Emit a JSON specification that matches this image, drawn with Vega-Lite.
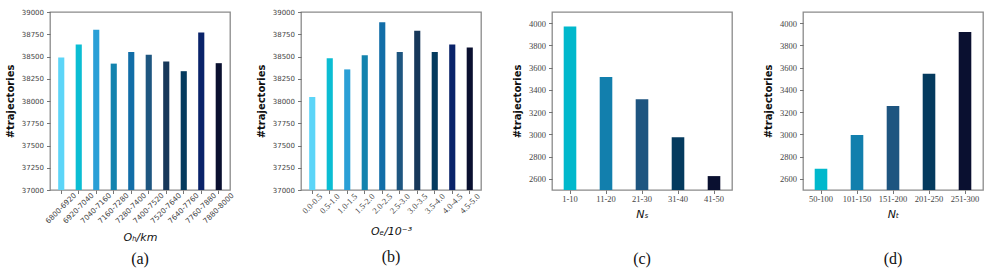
{
  "$schema": "https://vega.github.io/schema/vega-lite/v6.json",
  "background": "white",
  "padding": {"left": 4, "top": 7, "right": 5, "bottom": 5},
  "spacing": 71,
  "bounds": "flush",
  "resolve": {"scale": {"color": "independent", "x": "independent", "y": "independent"}},
  "config": {
    "view": {"stroke": "#8a8a8a", "strokeWidth": 1.3},
    "axis": {
      "domain": false,
      "grid": false,
      "tickColor": "#666",
      "tickSize": 3.5,
      "tickWidth": 0.9,
      "labelColor": "#444",
      "titleColor": "#111",
      "labelPadding": 3
    },
    "axisY": {
      "titleFont": "DejaVu Sans",
      "titleFontWeight": "bold",
      "titleFontSize": 10,
      "titlePadding": 6
    },
    "title": {"font": "Liberation Serif", "fontSize": 16, "fontWeight": "normal", "color": "#111", "orient": "bottom"}
  },
  "datasets": {
    "a": [
      {"cat": "6800-6920", "v": 38490},
      {"cat": "6920-7040", "v": 38635},
      {"cat": "7040-7160", "v": 38800},
      {"cat": "7160-7280", "v": 38420},
      {"cat": "7280-7400", "v": 38550},
      {"cat": "7400-7520", "v": 38520},
      {"cat": "7520-7640", "v": 38445},
      {"cat": "7640-7760", "v": 38335},
      {"cat": "7760-7880", "v": 38770},
      {"cat": "7880-8000", "v": 38425}
    ],
    "b": [
      {"cat": "0.0-0.5", "v": 38045},
      {"cat": "0.5-1.0", "v": 38480},
      {"cat": "1.0-1.5", "v": 38355},
      {"cat": "1.5-2.0", "v": 38515},
      {"cat": "2.0-2.5", "v": 38885},
      {"cat": "2.5-3.0", "v": 38550},
      {"cat": "3.0-3.5", "v": 38790},
      {"cat": "3.5-4.0", "v": 38550},
      {"cat": "4.0-4.5", "v": 38635},
      {"cat": "4.5-5.0", "v": 38600}
    ],
    "c": [
      {"cat": "1-10", "v": 3970},
      {"cat": "11-20", "v": 3515},
      {"cat": "21-30", "v": 3315},
      {"cat": "31-40", "v": 2975},
      {"cat": "41-50", "v": 2625}
    ],
    "d": [
      {"cat": "50-100", "v": 2690},
      {"cat": "101-150", "v": 2995},
      {"cat": "151-200", "v": 3255},
      {"cat": "201-250", "v": 3545},
      {"cat": "251-300", "v": 3920}
    ]
  },
  "hconcat": [
    {
      "width": 180, "height": 178,
      "data": {"name": "a"},
      "title": {"text": "(a)", "offset": 9},
      "mark": {"type": "bar", "width": {"band": 0.35}},
      "encoding": {
        "x": {"field": "cat", "type": "nominal", "sort": null,
          "scale": {"paddingInner": 0, "paddingOuter": 0.1425},
          "axis": {"title": "Oₕ/km", "titleFont": "DejaVu Sans", "titleFontStyle": "italic", "titleFontWeight": "normal", "titleFontSize": 11, "titlePadding": 7,
            "labelAngle": -45, "labelAlign": "center", "labelBaseline": "middle", "labelPadding": 14.5, "labelFont": "DejaVu Sans", "labelFontSize": 7.3}},
        "y": {"field": "v", "type": "quantitative",
          "scale": {"domain": [37000, 39000], "nice": false, "zero": false},
          "axis": {"title": "#trajectories", "values": [37000, 37250, 37500, 37750, 38000, 38250, 38500, 38750, 39000], "format": "d", "labelFont": "DejaVu Sans", "labelFontSize": 7}},
        "y2": {"datum": 37000},
        "color": {"field": "cat", "type": "nominal", "sort": null, "legend": null,
          "scale": {"domain": ["6800-6920", "6920-7040", "7040-7160", "7160-7280", "7280-7400", "7400-7520", "7520-7640", "7640-7760", "7760-7880", "7880-8000"],
            "range": ["#5cd5f8", "#0bbdd3", "#2a9fd6", "#1383ae", "#126ea8", "#1e5680", "#17385a", "#043a5e", "#0a236a", "#0a1030"]}}
      }
    },
    {
      "width": 180, "height": 178,
      "data": {"name": "b"},
      "title": {"text": "(b)", "offset": 12},
      "mark": {"type": "bar", "width": {"band": 0.35}},
      "encoding": {
        "x": {"field": "cat", "type": "nominal", "sort": null,
          "scale": {"paddingInner": 0, "paddingOuter": 0.1425},
          "axis": {"title": "Oₑ/10⁻³", "titleFont": "DejaVu Sans", "titleFontStyle": "italic", "titleFontWeight": "normal", "titleFontSize": 11, "titlePadding": 11,
            "labelAngle": -45, "labelAlign": "center", "labelBaseline": "middle", "labelPadding": 9.5, "labelFont": "Liberation Serif", "labelFontSize": 8.5}},
        "y": {"field": "v", "type": "quantitative",
          "scale": {"domain": [37000, 39000], "nice": false, "zero": false},
          "axis": {"title": "#trajectories", "values": [37000, 37250, 37500, 37750, 38000, 38250, 38500, 38750, 39000], "format": "d", "labelFont": "DejaVu Sans", "labelFontSize": 7}},
        "y2": {"datum": 37000},
        "color": {"field": "cat", "type": "nominal", "sort": null, "legend": null,
          "scale": {"domain": ["0.0-0.5", "0.5-1.0", "1.0-1.5", "1.5-2.0", "2.0-2.5", "2.5-3.0", "3.0-3.5", "3.5-4.0", "4.0-4.5", "4.5-5.0"],
            "range": ["#5cd5f8", "#0bbdd3", "#2a9fd6", "#1383ae", "#126ea8", "#1e5680", "#17385a", "#043a5e", "#0a236a", "#0a1030"]}}
      }
    },
    {
      "width": 180, "height": 178,
      "data": {"name": "c"},
      "title": {"text": "(c)", "offset": 32},
      "mark": {"type": "bar", "width": {"band": 0.35}},
      "encoding": {
        "x": {"field": "cat", "type": "nominal", "sort": null,
          "scale": {"paddingInner": 0, "paddingOuter": -0.1075},
          "axis": {"title": "Nₛ", "titleFont": "DejaVu Sans", "titleFontStyle": "italic", "titleFontWeight": "normal", "titleFontSize": 11, "titlePadding": 5,
            "labelAngle": 0, "labelPadding": 1, "labelFont": "Liberation Serif", "labelFontSize": 8.5}},
        "y": {"field": "v", "type": "quantitative",
          "scale": {"domain": [2500, 4100], "nice": false, "zero": false},
          "axis": {"title": "#trajectories", "values": [2600, 2800, 3000, 3200, 3400, 3600, 3800, 4000], "format": "d", "labelFont": "Liberation Serif", "labelFontSize": 8.5}},
        "y2": {"datum": 2500},
        "color": {"field": "cat", "type": "nominal", "sort": null, "legend": null,
          "scale": {"domain": ["1-10", "11-20", "21-30", "31-40", "41-50"],
            "range": ["#00b8cc", "#127fad", "#1e5580", "#043a5e", "#0a1030"]}}
      }
    },
    {
      "width": 180, "height": 178,
      "data": {"name": "d"},
      "title": {"text": "(d)", "offset": 32},
      "mark": {"type": "bar", "width": {"band": 0.35}},
      "encoding": {
        "x": {"field": "cat", "type": "nominal", "sort": null,
          "scale": {"paddingInner": 0, "paddingOuter": -0.1075},
          "axis": {"title": "Nₜ", "titleFont": "DejaVu Sans", "titleFontStyle": "italic", "titleFontWeight": "normal", "titleFontSize": 11, "titlePadding": 5,
            "labelAngle": 0, "labelPadding": 1, "labelFont": "Liberation Serif", "labelFontSize": 8.5}},
        "y": {"field": "v", "type": "quantitative",
          "scale": {"domain": [2500, 4100], "nice": false, "zero": false},
          "axis": {"title": "#trajectories", "values": [2600, 2800, 3000, 3200, 3400, 3600, 3800, 4000], "format": "d", "labelFont": "Liberation Serif", "labelFontSize": 8.5}},
        "y2": {"datum": 2500},
        "color": {"field": "cat", "type": "nominal", "sort": null, "legend": null,
          "scale": {"domain": ["50-100", "101-150", "151-200", "201-250", "251-300"],
            "range": ["#00b8cc", "#127fad", "#1e5580", "#043a5e", "#0a1030"]}}
      }
    }
  ]
}
